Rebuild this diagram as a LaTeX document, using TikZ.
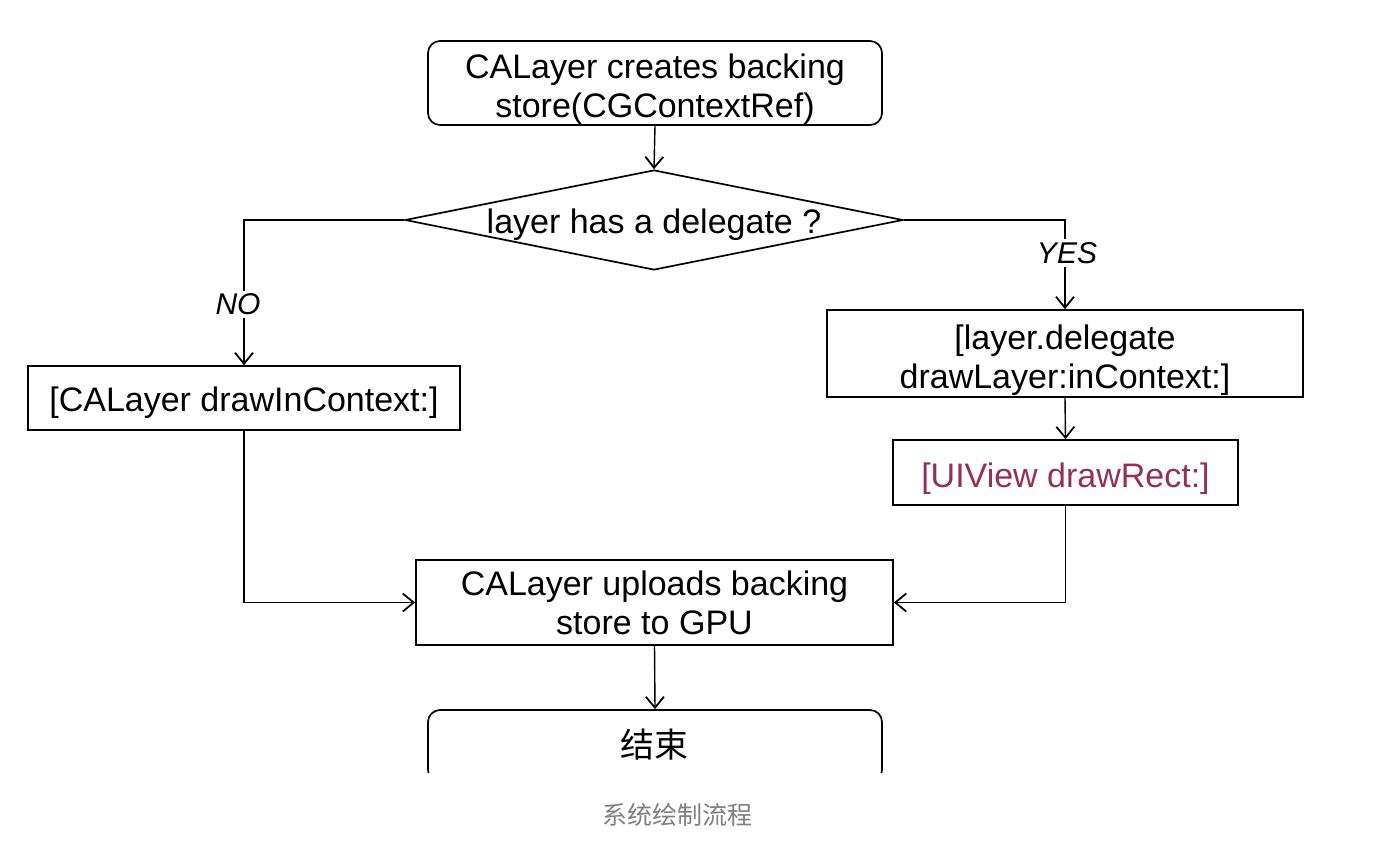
\documentclass[tikz,border=0pt]{standalone}
\usepackage{fontspec}
\setmainfont{Liberation Sans}
\newfontfamily\cjk{Noto Sans CJK SC}
\usetikzlibrary{shapes.geometric,arrows.meta}
\definecolor{maroon}{RGB}{148,48,88}
\definecolor{capgray}{RGB}{128,128,128}
\tikzset{
  box/.style={draw, line width=1.7pt, inner sep=0pt, align=center, font=\fontsize{34}{39}\selectfont},
  rbox/.style={box, rounded corners=12pt},
  txt/.style={inner sep=0pt, align=center, font=\fontsize{34}{39}\selectfont},
  strut/.style={execute at begin node={\rule{0pt}{#1}}},
  arr/.style={line width=1.4pt, -{Straight Barb[length=11pt,width=18pt,line width=1.8pt]}},
  lbl/.style={fill=white, inner sep=3pt, font=\itshape\fontsize{30}{34}\selectfont}
}
\begin{document}
\begin{tikzpicture}[x=1pt,y=-1pt]
\fill[white] (0,0) rectangle (1376,846);
\useasboundingbox (0,0) rectangle (1376,846);
\node[rbox, minimum width=454pt, minimum height=84pt] (top) at (655,83) {};
\node[txt] (topt) at (655,89) {CALayer creates backing\\store(CGContextRef)};
\node[draw, line width=1.7pt, shape=diamond, inner sep=0pt, minimum width=498pt, minimum height=100pt] (dia) at (654,220) {};
\node[txt] (diat) at (654,225) {layer has a delegate ?};
\node[box, strut=35pt, minimum width=432pt, minimum height=64pt] (lbox) at (244,398) {[CALayer drawInContext:]};
\node[box, minimum width=476pt, minimum height=87pt] (rbox1) at (1065,353.5) {};
\node[txt] (rbox1t) at (1065,360.5) {[layer.delegate\\drawLayer:inContext:]};
\node[box, strut=37pt, minimum width=345pt, minimum height=65pt, text=maroon] (rbox2) at (1065.5,472.5) {[UIView drawRect:]};
\node[box, minimum width=477pt, minimum height=85pt] (gpu) at (654.5,602.5) {CALayer uploads backing\\store to GPU};
\begin{scope}
\clip (0,0) rectangle (1376,772);
\node[rbox, minimum width=454pt, minimum height=72pt] (end) at (655,746) {};
\end{scope}
\node[font=\cjk\fontsize{34}{36}\selectfont] (endt) at (654,745) {结束};
\node[font=\cjk\fontsize{25}{28}\selectfont, text=capgray] (cap) at (677,815) {系统绘制流程};
\draw[arr] (top.south) -- (dia.north);
\draw[arr] (dia.west) -| node[lbl, pos=0.79, xshift=-6pt] (no) {NO} (lbox.north);
\draw[arr] (dia.east) -| node[lbl, pos=0.685, xshift=2pt] (yes) {YES} (rbox1.north);
\draw[arr] (rbox1.south) -- (rbox2.north);
\draw[arr] (lbox.south) |- (gpu.west);
\draw[arr] (rbox2.south) |- (gpu.east);
\draw[arr] (gpu.south) -- (end.north);
\end{tikzpicture}
\end{document}
